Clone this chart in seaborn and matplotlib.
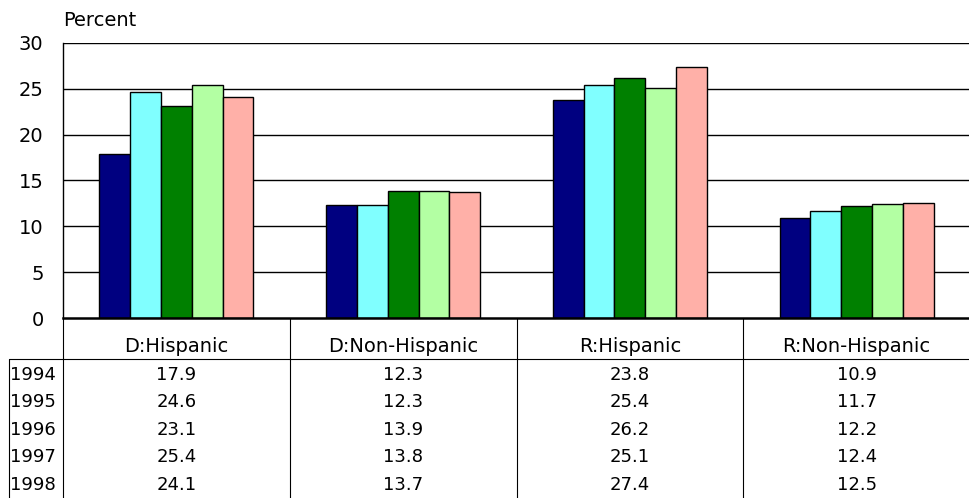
import matplotlib
matplotlib.use("Agg")
import matplotlib.pyplot as plt
import seaborn as sns
import pandas as pd

# Data
groups = ["D:Hispanic", "D:Non-Hispanic", "R:Hispanic", "R:Non-Hispanic"]
years = ["1994", "1995", "1996", "1997", "1998"]
v1994 = [17.9, 12.3, 23.8, 10.9]
v1995 = [24.6, 12.3, 25.4, 11.7]
v1996 = [23.1, 13.9, 26.2, 12.2]
v1997 = [25.4, 13.8, 25.1, 12.4]
v1998 = [24.1, 13.7, 27.4, 12.5]
colors = ["#000080", "#80FFFF", "#008000", "#B3FFA3", "#FFB0A8"]

series = [v1994, v1995, v1996, v1997, v1998]
rows = []
for yr, vals in zip(years, series):
    for g, v in zip(groups, vals):
        rows.append({"group": g, "year": yr, "value": v})
df = pd.DataFrame(rows)

sns.set_style("white")
plt.rcParams["font.family"] = ["DejaVu Sans"]
plt.rcParams["text.color"] = "black"
plt.rcParams["ytick.color"] = "black"

W, H = 970, 498
fig = plt.figure(figsize=(W / 100, H / 100), dpi=100)
left, right, top, bottom = 63, 970, 43, 318
ax = fig.add_axes([left / W, 1 - bottom / H, (right - left) / W, (bottom - top) / H])

sns.barplot(data=df, x="group", y="value", hue="year", order=groups,
            hue_order=years, palette=colors, width=0.68, ax=ax,
            edgecolor="black", linewidth=1, legend=False, saturation=1)

ax.set_ylim(0, 30)
ax.set_xlim(-0.5, 3.5)
ax.set_yticks(range(0, 31, 5))
ax.tick_params(axis="y", labelsize=14, length=0, pad=14, labelcolor="black")
ax.set_xticks([])
ax.set_xlabel("")
ax.set_ylabel("")
for y in range(5, 31, 5):
    ax.axhline(y, color="black", lw=1, zorder=0)
for s in ["top", "right"]:
    ax.spines[s].set_visible(False)
ax.spines["left"].set_color("black")
ax.spines["left"].set_linewidth(1)
ax.spines["bottom"].set_color("black")
ax.spines["bottom"].set_linewidth(1.8)


def ay(ypix):
    # pixel row -> axes fraction
    return (bottom - ypix) / (bottom - top)


def ax_x(xpix):
    return (xpix - left) / (right - left)


ax.text(0.0, ay(21), "Percent", fontsize=14, va="center", ha="left",
        transform=ax.transAxes, clip_on=False)

# data table
tkw = dict(transform=ax.transAxes, clip_on=False, color="black", lw=0.8)
ax.plot([ax_x(9), 1], [ay(359), ay(359)], **tkw)
ax.plot([ax_x(9), ax_x(9)], [ay(359), ay(H)], **tkw)
ax.plot([0, 0], [ay(318), ay(H)], **tkw)
for i in range(1, 4):
    ax.plot([i / 4, i / 4], [ay(318), ay(H)], **tkw)

for i, g in enumerate(groups):
    ax.text((i + 0.5) / 4, ay(346), g, ha="center", va="center", fontsize=14,
            transform=ax.transAxes)

row_y = [375, 402, 430, 457, 485]
for yr, vals, ry in zip(years, series, row_y):
    ax.text(ax_x(10), ay(ry), yr, ha="left", va="center", fontsize=13,
            transform=ax.transAxes)
    for i, v in enumerate(vals):
        ax.text((i + 0.5) / 4, ay(ry), f"{v:.1f}", ha="center", va="center",
                fontsize=13, transform=ax.transAxes)

fig.savefig("out.png", dpi=100)
